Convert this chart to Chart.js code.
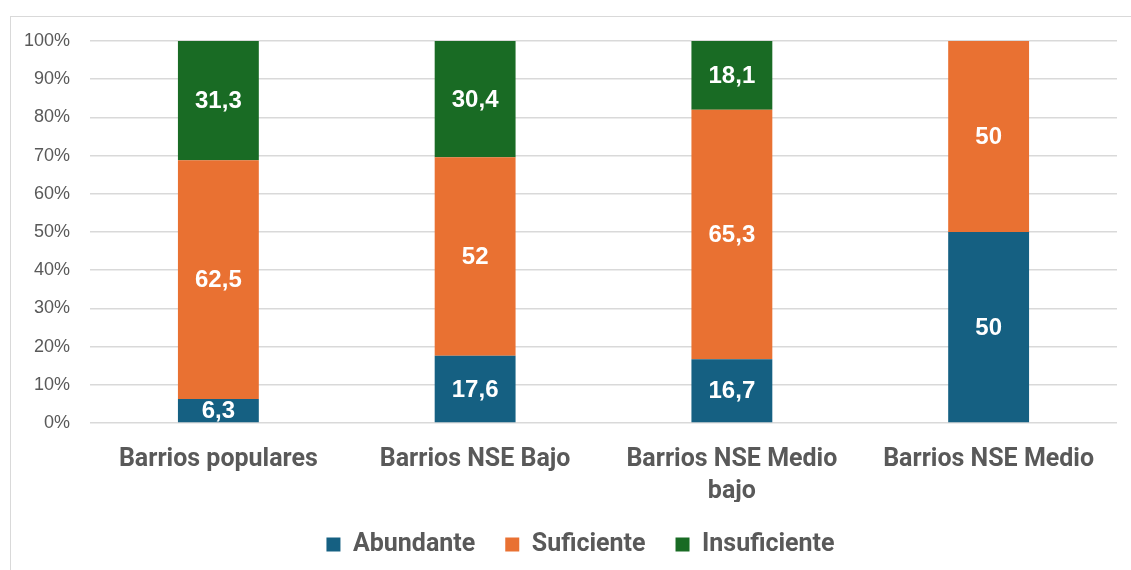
<!DOCTYPE html>
<html>
<head>
<meta charset="utf-8">
<script src="https://cdn.jsdelivr.net/npm/chart.js@4"></script>
<style>
  html, body { margin: 0; padding: 0; background: #fff; overflow: hidden; }
  #wrap { position: relative; width: 1131px; height: 570px; }
  #frame { position: absolute; left: 10px; top: 16px; width: 1200px; height: 600px; border: 1px solid #d9d9d9; box-sizing: border-box; }
  canvas { position: absolute; left: 0; top: 0; }
</style>
</head>
<body>
<div id="wrap">
  <div id="frame"></div>
  <canvas id="chart" width="1131" height="570"></canvas>
</div>
<script>
// Data
const categories = ["Barrios populares", "Barrios NSE Bajo", ["Barrios NSE Medio", "bajo"], "Barrios NSE Medio"];
const abundante = [6.3, 17.6, 16.7, 50];
const suficiente = [62.5, 52, 65.3, 50];
const insuficiente = [31.3, 30.4, 18.1, 0];
const yTicks = [0, 10, 20, 30, 40, 50, 60, 70, 80, 90, 100];

const textGray = "#595959";

// draw white value labels in the middle of each segment
const barLabels = {
  id: "barLabels",
  afterLayout(chart) {
    // legend sits a bit right of the canvas centre in the original
    chart.legend.left += 22;
    chart.legend.right += 22;
  },
  afterDatasetsDraw(chart) {
    const ctx = chart.ctx;
    ctx.save();
    ctx.font = "bold 24px 'Liberation Sans', Arial, sans-serif";
    ctx.fillStyle = "#ffffff";
    ctx.textAlign = "center";
    ctx.textBaseline = "middle";
    chart.data.datasets.forEach((ds, i) => {
      chart.getDatasetMeta(i).data.forEach((bar, j) => {
        const v = ds.data[j];
        if (!v) return;
        const y = (bar.y + bar.base) / 2;
        ctx.fillText(String(v).replace(".", ","), bar.x, y + 1);
      });
    });
    ctx.restore();
  }
};

new Chart(document.getElementById("chart").getContext("2d"), {
  type: "bar",
  data: {
    labels: categories,
    datasets: [
      { label: "Abundante", data: abundante, backgroundColor: "#156082" },
      { label: "Suficiente", data: suficiente, backgroundColor: "#E97132" },
      { label: "Insuficiente", data: insuficiente, backgroundColor: "#196B24" },
    ],
  },
  options: {
    responsive: false,
    animation: false,
    layout: { padding: { left: 0, right: 14, top: 41, bottom: 3 } },
    datasets: { bar: { categoryPercentage: 1, barPercentage: 0.315 } },
    scales: {
      x: {
        stacked: true,
        grid: { display: false },
        border: { display: false },
        ticks: {
          color: textGray,
          font: { family: "Roboto, sans-serif", size: 25, weight: "bold", lineHeight: 1.3 },
          padding: 12,
          maxRotation: 0,
          autoSkip: false,
        },
        afterFit(scale) { scale.height = 79; },
      },
      y: {
        stacked: true,
        min: 0,
        max: 100,
        afterBuildTicks(scale) { scale.ticks = yTicks.map(v => ({ value: v })); },
        grid: { color: "#d9d9d9", lineWidth: 1.5, drawTicks: false },
        border: { display: false },
        ticks: {
          color: textGray,
          font: { family: "'Liberation Sans', Arial, sans-serif", size: 18 },
          padding: 20,
          callback: v => v + "%",
        },
        afterFit(scale) { scale.width = 90; },
      },
    },
    plugins: {
      legend: {
        position: "bottom",
        labels: {
          color: textGray,
          font: { family: "Roboto, sans-serif", size: 25, weight: "bold" },
          boxWidth: 14,
          boxHeight: 14,
          padding: 30,
        },
      },
      tooltip: { enabled: false },
    },
  },
  plugins: [barLabels],
});
</script>
</body>
</html>
